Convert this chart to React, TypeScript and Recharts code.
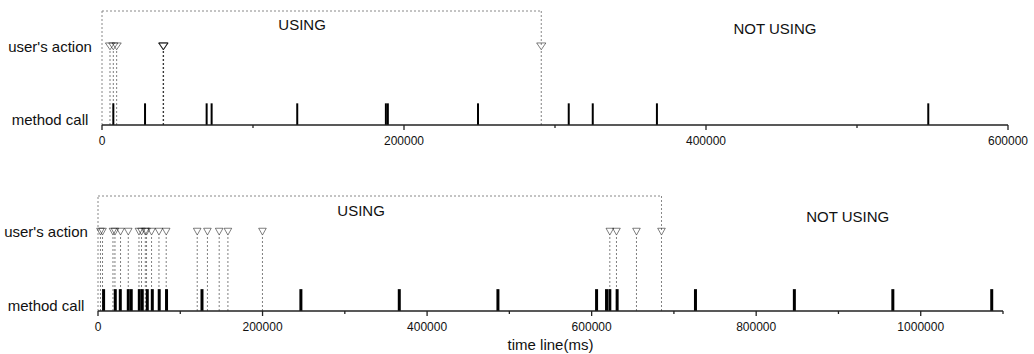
import React from 'react';
import { ComposedChart, XAxis, YAxis, Scatter, ReferenceLine, ReferenceDot } from 'recharts';

// session 1 (upper chart)
const topMethodCalls = [7500, 28500, 69300, 72600, 129300, 188000, 189300, 249000, 309100, 325000, 367500, 547200];
const topUserActions = [5300, 7500, 9700, 40500, 40600, 40800, 290900];
const topTicks = [0, 100000, 200000, 300000, 400000, 500000, 600000];
const topTickLabels = [0, 200000, 400000, 600000];

// session 2 (lower chart)
const bottomMethodCalls = [
  6800, 21000, 27100, 36800, 40400, 50200, 53800, 59900, 66000, 74400, 83300, 126400,
  246600, 366200, 486100, 606000, 618100, 622100, 631000, 726200, 846400, 966100, 1086300,
];
const bottomUserActions = [
  3000, 5500, 18200, 20600, 27400, 36800, 49800, 52900, 57500, 59000, 65100, 74100, 82900,
  120600, 133000, 147300, 157900, 199900, 622100, 630200, 654500, 684900,
];
const bottomTicks = [0, 100000, 200000, 300000, 400000, 500000, 600000, 700000, 800000, 900000, 1000000, 1100000];
const bottomTickLabels = [0, 200000, 400000, 600000, 800000, 1000000];

const rowLabels = ["method call", "user's action"];

const METHOD_Y = 0.45;
const ACTION_Y = 6.9;
const DROP_TOP = 6.6;
const BAR_H = 1.9;
const BOX_TOP = 10;

const makeXTick = (labels: number[]) => (props: any) => {
  const { x, y, payload } = props;
  const major = labels.includes(payload.value);
  return (
    <g>
      <line x1={x} x2={x} y1={y} y2={y + (major ? 5 : 3)} stroke="#222" strokeWidth={1.3} />
      {major && (
        <text x={x} y={y + 20} textAnchor="middle" fontSize={12} fill="#111">
          {payload.value}
        </text>
      )}
    </g>
  );
};

const YTick = (props: any) => {
  const { x, y, payload } = props;
  const label = payload.value === ACTION_Y ? rowLabels[1] : rowLabels[0];
  return (
    <text x={x - 52} y={y} dy="0.35em" textAnchor="middle" fontSize={15} fill="#111">
      {label}
    </text>
  );
};

const makeTriangle = (hw: number) => (props: any) => {
  const { cx, cy } = props;
  return (
    <path
      d={`M${cx - hw},${cy - 3.4}L${cx + hw},${cy - 3.4}L${cx},${cy + 3.4}Z`}
      fill="none"
      stroke="#000"
      strokeOpacity={0.5}
      strokeWidth={1}
    />
  );
};

interface PanelProps {
  width: number;
  height: number;
  margin: { top: number; right: number; bottom: number; left: number };
  yWidth: number;
  xHeight: number;
  maxX: number;
  ticks: number[];
  tickLabels: number[];
  calls: number[];
  actions: number[];
  barWidth: number;
  triHalf: number;
  usingPos: [number, number];
  notUsingPos: [number, number];
  xLabel?: string;
}

const Panel = (p: PanelProps) => {
  const boxEnd = p.actions[p.actions.length - 1];
  const dots = p.actions.map((x) => ({ x, y: ACTION_Y }));
  return (
    <ComposedChart width={p.width} height={p.height} margin={p.margin}>
      <XAxis
        type="number"
        dataKey="x"
        domain={[0, p.maxX]}
        ticks={p.ticks}
        interval={0}
        height={p.xHeight}
        tickSize={0}
        tickMargin={0}
        tickLine={false}
        axisLine={{ stroke: '#222', strokeWidth: 1.6 }}
        tick={makeXTick(p.tickLabels)}
        label={p.xLabel ? { value: p.xLabel, position: 'insideBottom', offset: 3, fontSize: 15, fill: '#111' } : undefined}
      />
      <YAxis
        type="number"
        dataKey="y"
        domain={[0, BOX_TOP]}
        ticks={[METHOD_Y, ACTION_Y]}
        width={p.yWidth}
        axisLine={false}
        tickLine={false}
        tickSize={0}
        tickMargin={0}
        tick={YTick}
      />
      {/* dotted "using" box */}
      <ReferenceLine segment={[{ x: 0, y: 0 }, { x: 0, y: BOX_TOP }]} stroke="#888" strokeDasharray="2 2" />
      <ReferenceLine segment={[{ x: 0, y: BOX_TOP }, { x: boxEnd, y: BOX_TOP }]} stroke="#888" strokeDasharray="2 2" />
      <ReferenceLine segment={[{ x: boxEnd, y: BOX_TOP }, { x: boxEnd, y: ACTION_Y }]} stroke="#888" strokeDasharray="2 2" />
      {p.actions.map((t, i) => (
        <ReferenceLine
          key={'d' + i}
          segment={[{ x: t, y: 0 }, { x: t, y: DROP_TOP }]}
          stroke="#000"
          strokeOpacity={0.5}
          strokeDasharray="2 2"
        />
      ))}
      {p.calls.map((t, i) => (
        <ReferenceLine
          key={'c' + i}
          segment={[{ x: t, y: 0 }, { x: t, y: BAR_H }]}
          stroke="#000"
          strokeWidth={p.barWidth}
        />
      ))}
      <Scatter data={dots} shape={makeTriangle(p.triHalf)} isAnimationActive={false} />
      <ReferenceDot
        x={p.usingPos[0]}
        y={p.usingPos[1]}
        r={0}
        fill="none"
        stroke="none"
        label={{ value: 'USING', position: 'center', fontSize: 15, fill: '#111' }}
      />
      <ReferenceDot
        x={p.notUsingPos[0]}
        y={p.notUsingPos[1]}
        r={0}
        fill="none"
        stroke="none"
        label={{ value: 'NOT USING', position: 'center', fontSize: 15, fill: '#111' }}
      />
    </ComposedChart>
  );
};

export default function App() {
  return (
    <div
      style={{
        position: 'absolute',
        left: 0,
        top: 0,
        width: 1034,
        height: 354,
        background: '#fff',
        fontFamily: '"Liberation Sans", Arial, sans-serif',
      }}
    >
      <Panel
        width={1034}
        height={175}
        margin={{ top: 11, right: 26, bottom: 20, left: 0 }}
        yWidth={102}
        xHeight={30}
        maxX={600000}
        ticks={topTicks}
        tickLabels={topTickLabels}
        calls={topMethodCalls}
        actions={topUserActions}
        barWidth={2}
        triHalf={4.6}
        usingPos={[132500, 8.77]}
        notUsingPos={[445700, 8.42]}
      />
      <Panel
        width={1034}
        height={179}
        margin={{ top: 21, right: 31, bottom: 1, left: 0 }}
        yWidth={98}
        xHeight={42}
        maxX={1100000}
        ticks={bottomTicks}
        tickLabels={bottomTickLabels}
        calls={bottomMethodCalls}
        actions={bottomUserActions}
        barWidth={3}
        triHalf={3.8}
        usingPos={[319800, 8.7]}
        notUsingPos={[911300, 8.2]}
        xLabel="time line(ms)"
      />
    </div>
  );
}
